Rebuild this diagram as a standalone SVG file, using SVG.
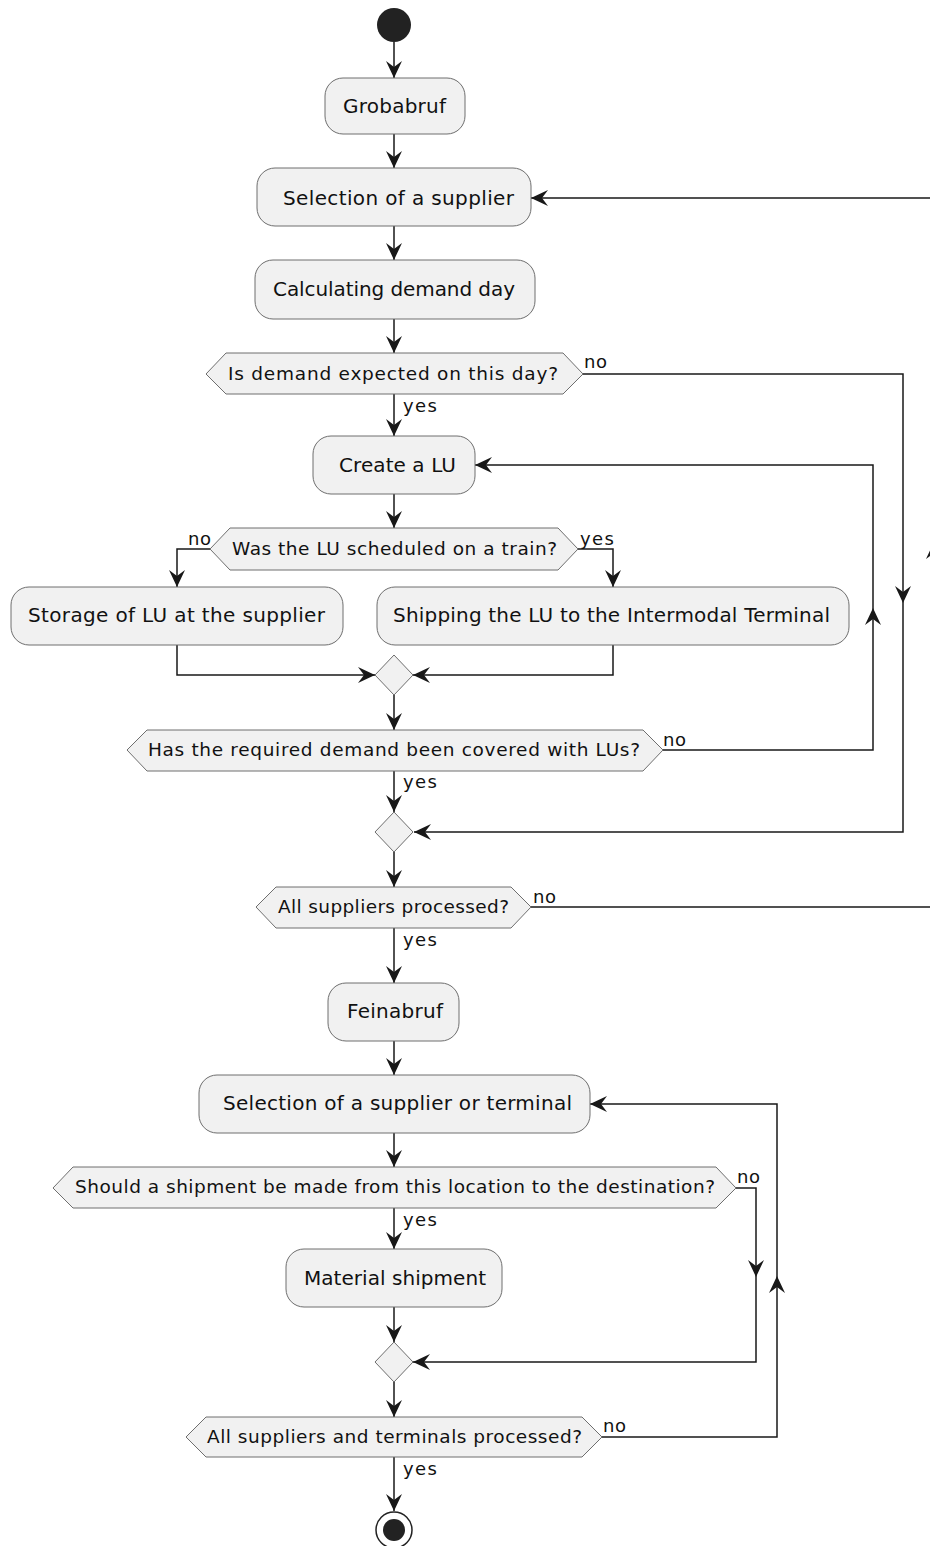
<svg xmlns="http://www.w3.org/2000/svg" width="930" height="1546" viewBox="0 0 930 1546">
<defs>
<style>
.act{fill:#F1F1F1;stroke:#6e6e6e;stroke-width:1}
.dec{fill:#F1F1F1;stroke:#6e6e6e;stroke-width:1}
.t{font-family:"DejaVu Sans",sans-serif;font-size:20px;fill:#111}
.dt{font-family:"DejaVu Sans",sans-serif;font-size:18.5px;fill:#111}
.lb{font-family:"DejaVu Sans",sans-serif;font-size:18px;fill:#111}
.ln{fill:none;stroke:#181818;stroke-width:1.5}
.arr{marker-end:url(#ah)}
</style>
<marker id="ah" viewBox="-18 -9 19 18" refX="0" refY="0" markerWidth="19" markerHeight="18" markerUnits="userSpaceOnUse" orient="auto">
<path d="M0,0 L-17,-8 L-11,0 L-17,8 Z" fill="#181818"/>
</marker>
</defs>
<rect width="930" height="1546" fill="#ffffff"/>

<g id="connectors">
<path class="ln arr" d="M394,42 V78"/>
<path class="ln arr" d="M394,134 V168"/>
<path class="ln arr" d="M394,226 V260"/>
<path class="ln arr" d="M394,319 V353"/>
<path class="ln arr" d="M394,394 V436"/>
<path class="ln arr" d="M583,374 H903 V603"/>
<path class="ln arr" d="M903,603 V832 H414"/>
<path class="ln arr" d="M394,494 V528"/>
<path class="ln arr" d="M210,549 H177 V587"/>
<path class="ln arr" d="M578,549 H613 V587"/>
<path class="ln arr" d="M177,645 V675 H375"/>
<path class="ln arr" d="M613,645 V675 H413"/>
<path class="ln arr" d="M394,695 V730"/>
<path class="ln arr" d="M663,750 H873 V608"/>
<path class="ln arr" d="M873,608 V465 H475"/>
<path class="ln arr" d="M394,771 V812"/>
<path class="ln arr" d="M394,852 V887"/>
<path class="ln arr" d="M531,907 H934 V542"/>
<path class="ln arr" d="M934,542 V198 H531"/>
<path class="ln arr" d="M394,928 V983"/>
<path class="ln arr" d="M394,1041 V1075"/>
<path class="ln arr" d="M394,1133 V1167"/>
<path class="ln arr" d="M394,1208 V1249"/>
<path class="ln arr" d="M736,1188 H756 V1277"/>
<path class="ln arr" d="M756,1277 V1362 H413"/>
<path class="ln arr" d="M394,1307 V1342"/>
<path class="ln arr" d="M394,1382 V1417"/>
<path class="ln arr" d="M602,1437 H777 V1276"/>
<path class="ln arr" d="M777,1276 V1104 H590"/>
<path class="ln arr" d="M394,1457 V1511"/>
<text class="lb" x="584" y="368" textLength="23" lengthAdjust="spacing">no</text>
<text class="lb" x="403" y="412" textLength="34" lengthAdjust="spacing">yes</text>
<text class="lb" x="188" y="545" textLength="23" lengthAdjust="spacing">no</text>
<text class="lb" x="580" y="545" textLength="34" lengthAdjust="spacing">yes</text>
<text class="lb" x="663" y="746" textLength="23" lengthAdjust="spacing">no</text>
<text class="lb" x="403" y="788" textLength="34" lengthAdjust="spacing">yes</text>
<text class="lb" x="533" y="903" textLength="23" lengthAdjust="spacing">no</text>
<text class="lb" x="403" y="946" textLength="34" lengthAdjust="spacing">yes</text>
<text class="lb" x="737" y="1183" textLength="23" lengthAdjust="spacing">no</text>
<text class="lb" x="403" y="1226" textLength="34" lengthAdjust="spacing">yes</text>
<text class="lb" x="603" y="1432" textLength="23" lengthAdjust="spacing">no</text>
<text class="lb" x="403" y="1475" textLength="34" lengthAdjust="spacing">yes</text>
</g>

<g id="start"><circle cx="394" cy="25" r="17" fill="#222222"/></g>

<g id="grobabruf">
<rect class="act" x="325" y="78" width="140" height="56" rx="18"/>
<text class="t" x="343" y="113" textLength="103" lengthAdjust="spacing">Grobabruf</text>
</g>

<g id="selSupplier">
<rect class="act" x="257" y="168" width="274" height="58" rx="18"/>
<text class="t" x="283" y="205" textLength="231" lengthAdjust="spacing">Selection of a supplier</text>
</g>

<g id="calcDemand">
<rect class="act" x="255" y="260" width="280" height="59" rx="18"/>
<text class="t" x="273" y="296" textLength="242" lengthAdjust="spacing">Calculating demand day</text>
</g>

<g id="decDemand">
<polygon class="dec" points="206,374 226,353 563,353 583,374 563,394 226,394"/>
<text class="dt" x="228" y="380" textLength="330" lengthAdjust="spacing">Is demand expected on this day?</text>
</g>

<g id="createLU">
<rect class="act" x="313" y="436" width="162" height="58" rx="18"/>
<text class="t" x="339" y="472" textLength="117" lengthAdjust="spacing">Create a LU</text>
</g>

<g id="decTrain">
<polygon class="dec" points="210,549 230,528 558,528 578,549 558,570 230,570"/>
<text class="dt" x="232" y="555" textLength="325" lengthAdjust="spacing">Was the LU scheduled on a train?</text>
</g>

<g id="storage">
<rect class="act" x="11" y="587" width="332" height="58" rx="18"/>
<text class="t" x="28" y="622" textLength="297" lengthAdjust="spacing">Storage of LU at the supplier</text>
</g>

<g id="shipping">
<rect class="act" x="377" y="587" width="472" height="58" rx="18"/>
<text class="t" x="393" y="622" textLength="437" lengthAdjust="spacing">Shipping the LU to the Intermodal Terminal</text>
</g>

<g id="merge1"><polygon class="dec" points="375,675 394,655 413,675 394,695"/></g>

<g id="decCovered">
<polygon class="dec" points="127,750 147,730 643,730 663,750 643,771 147,771"/>
<text class="dt" x="148" y="756" textLength="492" lengthAdjust="spacing">Has the required demand been covered with LUs?</text>
</g>

<g id="merge2"><polygon class="dec" points="375,832 394,812 413,832 394,852"/></g>

<g id="decAllSuppliers">
<polygon class="dec" points="256,907 276,887 511,887 531,907 511,928 276,928"/>
<text class="dt" x="278" y="913" textLength="231" lengthAdjust="spacing">All suppliers processed?</text>
</g>

<g id="feinabruf">
<rect class="act" x="328" y="983" width="131" height="58" rx="18"/>
<text class="t" x="347" y="1018" textLength="96" lengthAdjust="spacing">Feinabruf</text>
</g>

<g id="selSupplierTerminal">
<rect class="act" x="199" y="1075" width="391" height="58" rx="18"/>
<text class="t" x="223" y="1110" textLength="349" lengthAdjust="spacing">Selection of a supplier or terminal</text>
</g>

<g id="decShipment">
<polygon class="dec" points="53,1188 73,1167 716,1167 736,1188 716,1208 73,1208"/>
<text class="dt" x="75" y="1193" textLength="640" lengthAdjust="spacing">Should a shipment be made from this location to the destination?</text>
</g>

<g id="material">
<rect class="act" x="286" y="1249" width="216" height="58" rx="18"/>
<text class="t" x="304" y="1285" textLength="182" lengthAdjust="spacing">Material shipment</text>
</g>

<g id="merge3"><polygon class="dec" points="375,1362 394,1342 413,1362 394,1382"/></g>

<g id="decAllTerminals">
<polygon class="dec" points="186,1437 206,1417 582,1417 602,1437 582,1457 206,1457"/>
<text class="dt" x="207" y="1443" textLength="375" lengthAdjust="spacing">All suppliers and terminals processed?</text>
</g>

<g id="end">
<circle cx="394" cy="1530" r="18" fill="#ffffff" stroke="#222222" stroke-width="1.5"/>
<circle cx="394" cy="1530" r="11" fill="#222222"/>
</g>
</svg>
